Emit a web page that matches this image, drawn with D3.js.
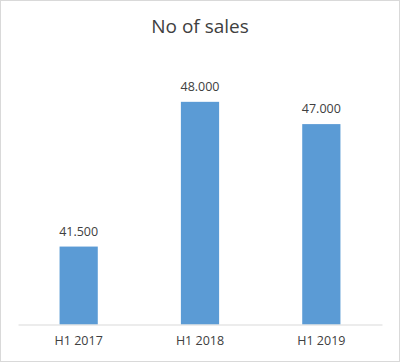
<!DOCTYPE html>
<html>
<head>
<meta charset="utf-8">
<script src="https://cdn.jsdelivr.net/npm/d3@7"></script>
<style>
  html, body { margin: 0; padding: 0; background: #fff; }
  svg { display: block; }
</style>
</head>
<body>
<script>
const categories = ["H1 2017", "H1 2018", "H1 2019"];
const values = [41.5, 48.0, 47.0];
const valueLabels = ["41.500", "48.000", "47.000"];
const yDomain = [38, 50];

const W = 400, H = 362;
const svg = d3.select("body").append("svg").attr("width", W).attr("height", H);

svg.append("rect").attr("x", 0.5).attr("y", 0.5).attr("width", W - 1).attr("height", H - 1)
  .attr("fill", "#fff").attr("stroke", "#d9d9d9");

const x = d3.scaleBand().domain(categories).range([18, 382]).paddingInner(0.685).paddingOuter(0.3425);
const y = d3.scaleLinear().domain(yDomain).range([324.5, 57.3]);

const font = "'Open Sans', 'Noto Sans', sans-serif";

svg.append("text").attr("x", 200).attr("y", 33).attr("text-anchor", "middle")
  .attr("font-family", font).attr("font-size", 19).attr("fill", "#404040").text("No of sales");

svg.selectAll("rect.bar").data(values).enter().append("rect").attr("class", "bar")
  .attr("x", (d, i) => x(categories[i]))
  .attr("width", x.bandwidth())
  .attr("y", d => y(d))
  .attr("height", d => y(yDomain[0]) - y(d))
  .attr("fill", "#5b9bd5");

svg.selectAll("text.val").data(values).enter().append("text").attr("class", "val")
  .attr("x", (d, i) => x(categories[i]) + x.bandwidth() / 2)
  .attr("y", d => y(d) - 11)
  .attr("text-anchor", "middle").attr("font-family", font).attr("font-size", 12.5)
  .attr("fill", "#404040").text((d, i) => valueLabels[i]);

const xAxis = d3.axisBottom(x).tickSize(0).tickPadding(12);
const gx = svg.append("g").attr("transform", `translate(0,${y(yDomain[0])})`).call(xAxis);
gx.select(".domain").attr("stroke", "#d9d9d9").attr("stroke-width", 1);
gx.selectAll("text").attr("font-family", font).attr("font-size", 12.5).attr("fill", "#404040");
</script>
</body>
</html>
